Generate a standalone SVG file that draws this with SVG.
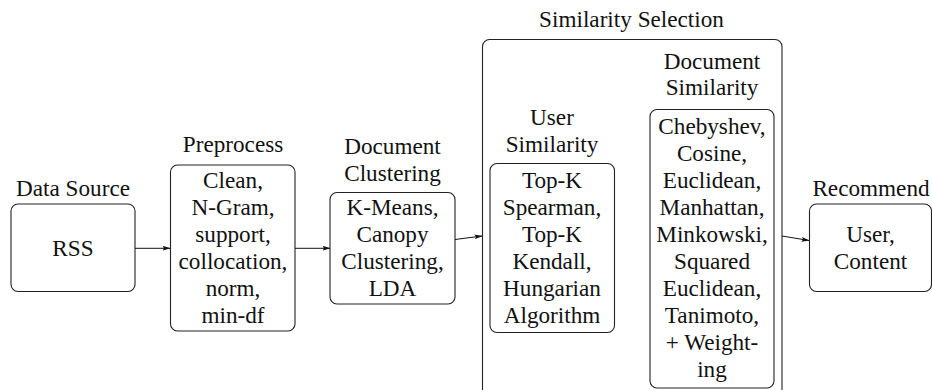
<svg xmlns="http://www.w3.org/2000/svg" width="932" height="390" viewBox="0 0 932 390">
<style>
.t{font-family:Liberation Serif,Tinos,serif;font-size:23.2px;fill:#111;text-anchor:middle}
.box{fill:none;stroke:#222;stroke-width:1.1}
.conn{stroke:#111;stroke-width:1;fill:none;marker-end:url(#ah)}
</style>
<defs>
<marker id="ah" viewBox="0 0 8 6" refX="7.5" refY="3" markerWidth="8" markerHeight="6" markerUnits="userSpaceOnUse" orient="auto">
<path d="M0,0.6 L8,3 L0,5.4 L1.6,3 Z" fill="#111"/>
</marker>
</defs>
<rect width="932" height="390" fill="#fff"/>
<g id="selection">
<rect class="box" x="482.5" y="39.5" width="299.5" height="420" rx="7"/>
<text class="t" x="631.5" y="26.5" style="font-family:'Liberation Serif',serif">Similarity Selection</text>
</g>
<g id="datasource">
<text class="t" x="73" y="196" style="font-family:'Liberation Serif',serif">Data Source</text>
<rect class="box" x="11" y="204" width="124" height="87.5" rx="7"/>
<text class="t" x="73" y="256" style="font-family:'Liberation Serif',serif">RSS</text>
</g>
<g id="preprocess">
<text class="t" x="233" y="152" style="font-family:'Liberation Serif',serif">Preprocess</text>
<rect class="box" x="170.5" y="165" width="124.5" height="166" rx="7"/>
<text class="t" x="233" y="188" style="font-family:'Liberation Serif',serif">Clean,</text>
<text class="t" x="233" y="215" style="font-family:'Liberation Serif',serif">N-Gram,</text>
<text class="t" x="233" y="242" style="font-family:'Liberation Serif',serif">support,</text>
<text class="t" x="233" y="269" style="font-family:'Liberation Serif',serif">collocation,</text>
<text class="t" x="233" y="296" style="font-family:'Liberation Serif',serif">norm,</text>
<text class="t" x="233" y="323" style="font-family:'Liberation Serif',serif">min-df</text>
</g>
<g id="clustering">
<text class="t" x="392.5" y="154" style="font-family:'Liberation Serif',serif">Document</text>
<text class="t" x="392.5" y="180.5" style="font-family:'Liberation Serif',serif">Clustering</text>
<rect class="box" x="330" y="192.5" width="125" height="111.5" rx="7"/>
<text class="t" x="392.5" y="215" style="font-family:'Liberation Serif',serif">K-Means,</text>
<text class="t" x="392.5" y="242" style="font-family:'Liberation Serif',serif">Canopy</text>
<text class="t" x="392.5" y="269" style="font-family:'Liberation Serif',serif">Clustering,</text>
<text class="t" x="392.5" y="296" style="font-family:'Liberation Serif',serif">LDA</text>
</g>
<g id="usersim">
<text class="t" x="552" y="125" style="font-family:'Liberation Serif',serif">User</text>
<text class="t" x="552" y="151.5" style="font-family:'Liberation Serif',serif">Similarity</text>
<rect class="box" x="490" y="163.5" width="124.5" height="169" rx="7"/>
<text class="t" x="552" y="188" style="font-family:'Liberation Serif',serif">Top-K</text>
<text class="t" x="552" y="215" style="font-family:'Liberation Serif',serif">Spearman,</text>
<text class="t" x="552" y="242" style="font-family:'Liberation Serif',serif">Top-K</text>
<text class="t" x="552" y="269" style="font-family:'Liberation Serif',serif">Kendall,</text>
<text class="t" x="552" y="296" style="font-family:'Liberation Serif',serif">Hungarian</text>
<text class="t" x="552" y="323" style="font-family:'Liberation Serif',serif">Algorithm</text>
</g>
<g id="docsim">
<text class="t" x="712" y="68.5" style="font-family:'Liberation Serif',serif">Document</text>
<text class="t" x="712" y="95" style="font-family:'Liberation Serif',serif">Similarity</text>
<rect class="box" x="650" y="109.5" width="124" height="278.5" rx="7"/>
<text class="t" x="712" y="134" style="font-family:'Liberation Serif',serif">Chebyshev,</text>
<text class="t" x="712" y="161" style="font-family:'Liberation Serif',serif">Cosine,</text>
<text class="t" x="712" y="188" style="font-family:'Liberation Serif',serif">Euclidean,</text>
<text class="t" x="712" y="215" style="font-family:'Liberation Serif',serif">Manhattan,</text>
<text class="t" x="712" y="242" style="font-family:'Liberation Serif',serif">Minkowski,</text>
<text class="t" x="712" y="269" style="font-family:'Liberation Serif',serif">Squared</text>
<text class="t" x="712" y="296" style="font-family:'Liberation Serif',serif">Euclidean,</text>
<text class="t" x="712" y="323" style="font-family:'Liberation Serif',serif">Tanimoto,</text>
<text class="t" x="712" y="350" style="font-family:'Liberation Serif',serif">+ Weight-</text>
<text class="t" x="712" y="377" style="font-family:'Liberation Serif',serif">ing</text>
</g>
<g id="recommend">
<text class="t" x="871" y="196" style="font-family:'Liberation Serif',serif">Recommend</text>
<rect class="box" x="809.5" y="204" width="122" height="87.5" rx="7"/>
<text class="t" x="870.5" y="242" style="font-family:'Liberation Serif',serif">User,</text>
<text class="t" x="870.5" y="269" style="font-family:'Liberation Serif',serif">Content</text>
</g>
<g id="connectors">
<line class="conn" x1="135" y1="248.3" x2="170" y2="248.3"/>
<line class="conn" x1="295" y1="248.3" x2="330" y2="248.3"/>
<line class="conn" x1="455" y1="239.5" x2="482" y2="236"/>
<line class="conn" x1="782" y1="236" x2="809" y2="240.5"/>
</g>
</svg>
